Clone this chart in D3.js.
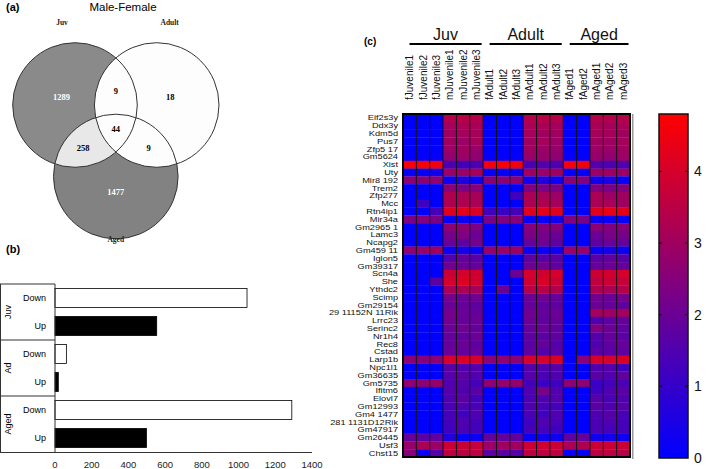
<!DOCTYPE html>
<html><head><meta charset="utf-8">
<script src="https://cdn.jsdelivr.net/npm/d3@7"></script>
<style>body{margin:0;background:#fff}svg{display:block}</style>
</head><body><svg id="c" width="709" height="469"></svg>
<script>
// ---------------- DATA ----------------
const vennSets = ["Juv", "Adult", "Aged"];
const vennRegions = [["Juv"], ["Juv","Adult"], ["Adult"], ["Juv","Adult","Aged"], ["Juv","Aged"], ["Adult","Aged"], ["Aged"]];
const vennValues = [1289, 9, 18, 44, 258, 9, 1477];

const barGroups = ["Juv", "Ad", "Aged"];
const barDirections = ["Down", "Up"];
const barDown = [1046, 62, 1290];
const barUp = [554, 18, 498];
const barTicks = [0, 200, 400, 600, 800, 1000, 1200, 1400];

const heatColumns = ["fJuvenile1","fJuvenile2","fJuvenile3","mJuvenile1","mJuvenile2","mJuvenile3",
  "fAdult1","fAdult2","fAdult3","mAdult1","mAdult2","mAdult3",
  "fAged1","fAged2","mAged1","mAged2","mAged3"];
const heatGroups = ["Juv", "Adult", "Aged"];
const heatGroupSizes = [6, 6, 5];
const heatRows = ["Eif2s3y","Ddx3y","Kdm5d","Pus7","Zfp5 17","Gm5624","Xist","Uty","Mir8 192","Trem2",
  "Zfp277","Mcc","Rtn4ip1","Mir34a","Gm2965 1","Lamc3","Ncapg2","Gm459 11","Iglon5","Gm39317",
  "Scn4a","She","Ythdc2","Scimp","Gm29154","29 11152N 11Rik","Lrrc23","Serinc2","Nr1h4","Rec8",
  "Cstad","Larp1b","Npc1l1","Gm36635","Gm5735","Ifitm6","Elovl7","Gm12993","Gm4 1477","281 1131D12Rik",
  "Gm47917","Gm26445","Usf3","Chst15"];
const heatValues = [
  [0,0,0, 3.4,3.5,3.4, 0,0,0, 3.4,3.5,3.4, 0,0, 3.4,3.4,3.4],
  [0,0,0, 3.1,3.2,3.2, 0,0,0, 3.2,3.2,3.1, 0,0, 3.2,3.1,3.2],
  [0,0,0, 3.0,3.1,3.1, 0,0,0, 3.1,3.0,3.0, 0,0, 3.1,3.1,3.0],
  [0,0,0, 3.0,2.9,3.1, 0,0,0, 3.0,3.1,2.9, 0,0, 3.0,3.0,3.1],
  [0,0,0, 2.9,3.0,2.8, 0,0,0, 3.0,2.9,2.8, 0,0, 2.9,2.9,3.0],
  [0.1,0.1,0.1, 2.7,2.9,2.7, 0.1,0.1,0.1, 2.8,2.8,2.7, 0.1,0.1, 2.8,2.7,2.9],
  [4.7,4.7,4.6, 1.4,1.2,1.4, 4.6,4.7,4.6, 1.3,1.5,1.4, 4.6,4.6, 1.5,1.4,1.5],
  [0.1,0.1,0.3, 2.9,2.9,3.1, 0.1,0.1,0.1, 3.0,2.9,3.0, 0.1,0.1, 2.9,3.0,2.9],
  [2.6,2.6,2.7, 0.2,0.5,0.2, 2.6,2.6,2.7, 0.3,0.6,0.2, 2.6,2.5, 0.3,0.5,0.1],
  [0,0,0, 2.6,2.3,2.5, 0,0,0, 2.4,2.3,2.3, 0,0, 2.4,2.3,2.4],
  [0,0,0, 3.3,3.2,3.1, 0,0,1.2, 3.2,3.1,2.9, 0,0, 3.2,2.9,3.0],
  [0,1.2,0, 3.3,3.3,3.2, 0,0,0, 3.3,3.3,3.1, 0,0, 3.2,3.2,3.0],
  [0,0,1.3, 4.2,4.3,4.1, 1.2,1.1,1.3, 4.2,4.3,4.2, 0,0, 4.2,4.4,4.3],
  [2.3,2.4,2.3, 0.1,0.2,0.2, 2.3,2.4,2.5, 0.1,0.1,0.3, 2.4,2.3, 0.2,0.2,0.1],
  [0,0,0, 2.7,2.6,2.3, 0,0,0, 2.5,2.4,2.4, 0,0, 2.6,2.4,2.5],
  [0,0,0, 2.2,2.4,2.0, 0,0,0, 2.3,2.2,2.0, 0,0, 2.0,2.3,2.2],
  [0,0,0, 2.0,1.8,2.2, 0,0,0, 1.9,2.1,1.8, 0,0, 1.8,2.0,1.9],
  [2.7,2.8,3.0, 0.2,0.4,0.2, 2.8,2.9,3.0, 0.2,0.2,0.3, 2.9,2.8, 0.2,0.4,0.2],
  [0,0,0, 1.6,1.9,1.7, 0,0,0, 1.8,1.6,1.7, 0,0, 1.7,1.8,1.6],
  [0,0,0, 2.1,2.0,1.9, 0,0,0, 2.0,2.1,1.8, 0,0, 1.9,2.0,1.9],
  [0,0,0, 3.8,4.0,3.9, 0,0,2.0, 4.0,3.9,4.0, 0,0, 3.8,3.9,4.0],
  [0,0,1.7, 4.0,4.2,3.9, 0,0,0, 3.9,4.1,3.8, 0,0, 3.6,3.8,3.7],
  [0,0,0, 3.2,3.3,3.1, 0,2.0,0, 3.4,3.5,3.3, 0,0, 3.3,3.2,3.4],
  [0,0,0, 2.2,2.0,2.1, 0,0,0, 2.0,2.1,1.9, 0,0, 2.1,2.0,2.2],
  [0,0,0, 2.0,1.9,1.8, 0,0,0, 1.9,1.8,1.8, 0,0, 2.0,1.9,1.8],
  [0,0,0, 2.2,2.0,1.9, 0,0,0, 2.1,1.9,2.0, 0,0, 3.1,3.0,3.1],
  [0,0,0, 2.1,1.9,2.0, 0,0,0, 2.0,1.8,1.9, 0,0, 1.5,1.8,1.9],
  [0,0,0, 2.0,2.1,1.9, 0,0,0, 1.9,2.0,1.8, 0,0, 2.4,2.0,1.8],
  [0,0,0, 1.9,1.8,2.0, 0,0,0, 1.8,1.7,1.8, 0,0, 1.6,1.9,1.7],
  [0,0,0, 1.9,2.0,1.8, 0,0,0, 1.7,1.9,1.6, 0,0, 1.5,1.8,1.9],
  [0,0,0, 2.0,1.9,1.9, 0,0,0, 1.8,1.6,1.7, 0,0, 1.7,1.7,1.8],
  [2.6,2.5,2.6, 4.0,4.1,4.0, 2.6,2.7,2.6, 4.0,4.0,4.1, 0.1,2.5, 4.0,4.0,4.1],
  [0,0,0, 1.7,1.5,1.6, 0,0,0, 1.6,1.5,1.6, 0,0, 1.5,1.6,1.2],
  [0,0,0, 1.6,1.7,1.5, 0,0,0, 1.6,1.4,1.5, 0,0, 1.7,1.5,1.8],
  [2.7,2.7,2.8, 1.5,1.6,1.3, 2.7,2.8,2.8, 1.3,1.1,1.2, 2.7,2.7, 1.1,1.3,1.4],
  [0,0,0, 1.6,1.5,1.7, 0,0,0, 1.5,2.3,1.5, 0,0, 1.2,1.5,1.7],
  [0,0,0, 1.5,1.7,1.3, 0,0,0, 1.4,1.5,1.6, 0,0, 1.6,1.4,1.5],
  [0,0,0, 1.4,1.5,1.4, 0,0,0, 1.5,1.4,1.3, 0,0, 1.7,1.5,1.6],
  [0,0,0, 1.3,1.2,1.5, 0,0,0, 1.4,1.2,1.5, 0,0, 1.5,1.6,1.4],
  [0,0,0, 1.3,1.5,1.3, 0,0,0, 1.2,1.5,1.4, 0,0, 1.4,1.5,1.3],
  [0,0,0, 1.2,1.4,1.3, 0,0,0, 1.3,1.3,1.2, 0,0, 1.4,1.3,1.3],
  [1.9,1.7,1.8, 0.6,0.1,0.2, 1.9,1.9,1.8, 0.1,0.3,0.2, 1.8,1.9, 0.3,0.3,0.2],
  [2.8,3.2,2.9, 3.8,3.8,3.7, 2.9,3.0,3.0, 3.8,3.9,3.8, 3.2,3.3, 3.8,3.8,3.8],
  [2.5,0.2,1.6, 3.6,3.5,3.6, 1.7,1.7,1.6, 3.6,3.6,3.6, 0.1,0.1, 3.5,3.6,3.4]
];
const colorDomain = [0, 4.8];
const colorTicks = [0, 1, 2, 3, 4];

// ---------------- LAYOUT / STYLE ----------------
const SANS = "'Liberation Sans', Arial, sans-serif";
const SERIF = "'Liberation Serif', 'Times New Roman', serif";
const vennLayout = { Juv: [75, 105], Adult: [156.7, 105], Aged: [115.8, 176.5], r: 62.3 };

const svg = d3.select("#c");

// ---------------- (a) VENN ----------------
const gA = svg.append("g");
gA.append("text").attr("x", 6).attr("y", 11).text("(a)")
  .attr("font-family", SANS).attr("font-weight", "bold").attr("font-size", 11);
gA.append("text").attr("x", 123).attr("y", 11).attr("text-anchor", "middle").text("Male-Female")
  .attr("font-family", SANS).attr("font-size", 11.5);

const defs = svg.append("defs");
defs.append("clipPath").attr("id", "clipJuv").append("circle")
  .attr("cx", vennLayout.Juv[0]).attr("cy", vennLayout.Juv[1]).attr("r", vennLayout.r);

const circ = (g, name) => g.append("circle")
  .attr("cx", vennLayout[name][0]).attr("cy", vennLayout[name][1]).attr("r", vennLayout.r);
circ(gA, "Juv").attr("fill", "#8a8a8a");
circ(gA, "Aged").attr("fill", "#828282");
circ(gA, "Aged").attr("fill", "#e8e8e8").attr("clip-path", "url(#clipJuv)");
circ(gA, "Adult").attr("fill", "#fdfdfd");
vennSets.forEach(s => circ(gA, s).attr("fill", "none").attr("stroke", "#333").attr("stroke-width", 1));

const setLabelPos = {
  Juv: [vennLayout.Juv[0] - 13, vennLayout.Juv[1] - 80],
  Adult: [vennLayout.Adult[0] + 13, vennLayout.Adult[1] - 80],
  Aged: [vennLayout.Aged[0], vennLayout.Aged[1] + 65]
};
vennSets.forEach(s => gA.append("text").attr("x", setLabelPos[s][0]).attr("y", setLabelPos[s][1])
  .attr("text-anchor", "middle").attr("font-family", SERIF).attr("font-weight", "bold")
  .attr("font-size", 7.5).attr("fill", "#222").text(s));

vennRegions.forEach((reg, i) => {
  const inc = reg.map(s => vennLayout[s]);
  const exc = vennSets.filter(s => !reg.includes(s)).map(s => vennLayout[s]);
  const ic = [d3.mean(inc, p => p[0]), d3.mean(inc, p => p[1])];
  let pos = ic;
  if (exc.length) {
    const ec = [d3.mean(exc, p => p[0]), d3.mean(exc, p => p[1])];
    const f = reg.length === 1 ? 0.22 : 0.2;
    pos = [ic[0] + (ic[0] - ec[0]) * f, ic[1] + (ic[1] - ec[1]) * f];
  }
  const dark = reg.length === 1 && reg[0] !== "Adult";
  gA.append("text").attr("x", pos[0]).attr("y", pos[1]).attr("dy", "0.35em")
    .attr("text-anchor", "middle").attr("font-family", SERIF).attr("font-weight", "bold")
    .attr("font-size", 8.5).attr("fill", dark ? "#fff" : "#000").text(vennValues[i]);
});

// ---------------- (b) BARS ----------------
const gB = svg.append("g");
gB.append("text").attr("x", 6).attr("y", 253).text("(b)")
  .attr("font-family", SANS).attr("font-weight", "bold").attr("font-size", 11);

const bx = d3.scaleLinear().domain([0, 1400]).range([55, 312]);
const barKeys = barGroups.flatMap(g => barDirections.map(d => g + "|" + d));
const by = d3.scaleBand().domain(barKeys).range([284, 452]).paddingInner(0.32).paddingOuter(0.16);
const groupY = d3.scaleBand().domain(barGroups).range([284, 452]);

const barData = barGroups.flatMap((g, i) => [
  { key: g + "|Down", dir: "Down", v: barDown[i] },
  { key: g + "|Up", dir: "Up", v: barUp[i] }
]);
gB.selectAll("rect.bar").data(barData).join("rect").attr("class", "bar")
  .attr("x", bx(0)).attr("y", d => by(d.key)).attr("width", d => bx(d.v) - bx(0))
  .attr("height", by.bandwidth())
  .attr("fill", d => d.dir === "Down" ? "#fff" : "#000").attr("stroke", "#000").attr("stroke-width", 0.8);

gB.append("line").attr("x1", 0.5).attr("x2", 0.5).attr("y1", groupY.range()[0]).attr("y2", groupY.range()[1]).attr("stroke", "#333");
barGroups.forEach(g => {
  gB.append("line").attr("x1", 0).attr("x2", bx(0)).attr("y1", groupY(g)).attr("y2", groupY(g)).attr("stroke", "#333");
  gB.append("text").attr("transform", `translate(11,${groupY(g) + groupY.bandwidth() / 2}) rotate(-90)`)
    .attr("text-anchor", "middle").attr("font-family", SANS).attr("font-size", 9).text(g);
});
barData.forEach(d => gB.append("text").attr("x", 46).attr("y", by(d.key) + by.bandwidth() / 2).attr("dy", "0.35em")
  .attr("text-anchor", "end").attr("font-family", SANS).attr("font-size", 9).text(d.dir));
gB.append("line").attr("x1", bx(0)).attr("x2", bx(0)).attr("y1", groupY.range()[0]).attr("y2", groupY.range()[1]).attr("stroke", "#333");
gB.append("line").attr("x1", 0).attr("x2", bx(1400)).attr("y1", groupY.range()[1] + 0.5).attr("y2", groupY.range()[1] + 0.5).attr("stroke", "#333");
gB.selectAll("text.tick").data(barTicks).join("text").attr("class", "tick")
  .attr("x", d => bx(d)).attr("y", 468).attr("text-anchor", "middle")
  .attr("font-family", SANS).attr("font-size", 9.5).attr("fill", "#222").text(d => d);

// ---------------- (c) HEATMAP ----------------
const gC = svg.append("g");
gC.append("text").attr("x", 364).attr("y", 45).text("(c)")
  .attr("font-family", SANS).attr("font-weight", "bold").attr("font-size", 10);

const hx = d3.scaleBand().domain(heatColumns).range([403, 630]);
const hy = d3.scaleBand().domain(heatRows).range([114, 457]);
const color = d3.scaleLinear().domain(colorDomain).range(["#0000ff", "#ff0000"]).interpolate(d3.interpolateRgb);

const cells = heatRows.flatMap((r, i) => heatColumns.map((c, j) => ({ r, c, v: heatValues[i][j] })));
gC.selectAll("rect.cell").data(cells).join("rect").attr("class", "cell")
  .attr("x", d => hx(d.c)).attr("y", d => hy(d.r))
  .attr("width", hx.bandwidth() + 0.3).attr("height", hy.bandwidth() + 0.3)
  .attr("fill", d => color(d.v));
gC.selectAll("line.sep").data(heatColumns.slice(1)).join("line").attr("class", "sep")
  .attr("x1", d => hx(d)).attr("x2", d => hx(d)).attr("y1", 114).attr("y2", 457)
  .attr("stroke", "#111").attr("stroke-width", 1);
gC.append("rect").attr("x", 632).attr("y", 114).attr("width", 1.5).attr("height", 345).attr("fill", "#999");
gC.append("rect").attr("x", 403).attr("y", 114).attr("width", 227).attr("height", 343)
  .attr("fill", "none").attr("stroke", "#000").attr("stroke-width", 2);

// row labels (vertically condensed like the original)
gC.selectAll("text.row").data(heatRows).join("text").attr("class", "row")
  .attr("transform", d => `translate(398,${hy(d) + hy.bandwidth() / 2}) scale(1,0.8)`)
  .attr("dy", "0.35em")
  .attr("text-anchor", "end").attr("font-family", SANS).attr("font-size", 9.2).attr("fill", "#111")
  .text(d => d);
gC.selectAll("text.col").data(heatColumns).join("text").attr("class", "col")
  .attr("transform", d => `translate(${hx(d) + hx.bandwidth() / 2 + 3.5},100) rotate(-90)`)
  .attr("text-anchor", "start").attr("font-family", SANS).attr("font-size", 10).attr("fill", "#111")
  .text(d => d);
let start = 0;
heatGroups.forEach((g, i) => {
  const c0 = heatColumns[start], c1 = heatColumns[start + heatGroupSizes[i] - 1];
  const x0 = hx(c0) + 6.5, x1 = hx(c1) + hx.bandwidth() - 1.5;
  gC.append("line").attr("x1", x0).attr("x2", x1).attr("y1", 44).attr("y2", 44).attr("stroke", "#000").attr("stroke-width", 2);
  gC.append("text").attr("x", (x0 + x1) / 2).attr("y", 40).attr("text-anchor", "middle")
    .attr("font-family", SANS).attr("font-size", 16).attr("fill", "#111").text(g);
  start += heatGroupSizes[i];
});

// colour bar
const cy = d3.scaleLinear().domain(colorDomain).range([458, 114]);
const grad = defs.append("linearGradient").attr("id", "cbar").attr("x1", 0).attr("x2", 0).attr("y1", 1).attr("y2", 0);
d3.range(0, 1.0001, 0.1).forEach(t => grad.append("stop").attr("offset", t)
  .attr("stop-color", color(colorDomain[0] + t * (colorDomain[1] - colorDomain[0]))));
const cbx0 = 659, cbx1 = 688;
gC.append("rect").attr("x", cbx0).attr("y", cy(colorDomain[1])).attr("width", cbx1 - cbx0)
  .attr("height", cy(colorDomain[0]) - cy(colorDomain[1])).attr("fill", "url(#cbar)")
  .attr("stroke", "#111").attr("stroke-width", 1.5);
colorTicks.forEach(t => {
  if (t > 0) {
    gC.append("line").attr("x1", cbx0).attr("x2", cbx0 + 3).attr("y1", cy(t)).attr("y2", cy(t)).attr("stroke", "#111").attr("stroke-width", 1.2);
    gC.append("line").attr("x1", cbx1 - 3).attr("x2", cbx1).attr("y1", cy(t)).attr("y2", cy(t)).attr("stroke", "#111").attr("stroke-width", 1.2);
  }
  gC.append("text").attr("x", 694).attr("y", cy(t)).attr("dy", "0.36em")
    .attr("font-family", SANS).attr("font-size", 14).attr("fill", "#111").text(t);
});
</script></body></html>
